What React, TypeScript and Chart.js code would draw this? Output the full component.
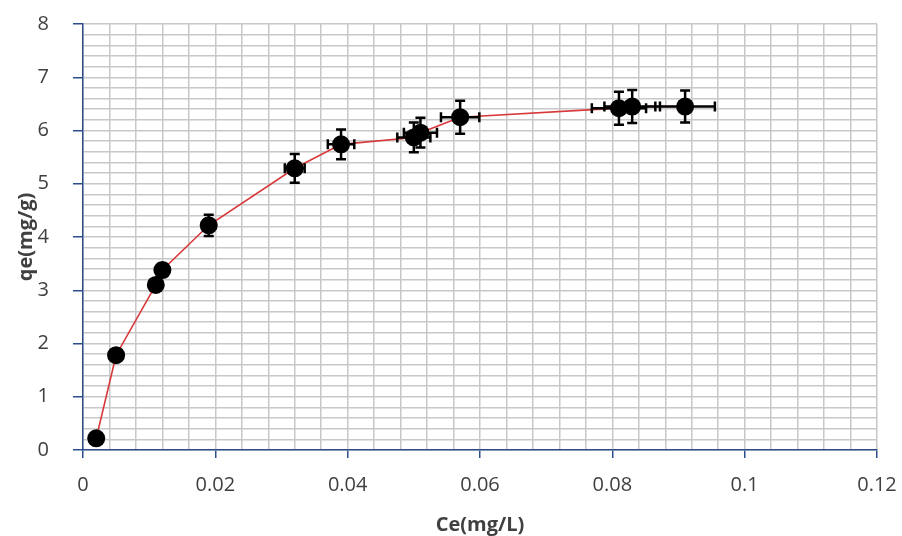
import React, { useEffect, useRef } from "react";
import { Chart, registerables } from "chart.js";

Chart.register(...registerables);

// Equilibrium concentration (mg/L) and adsorbed amount (mg/g)
const ce = [0.002, 0.005, 0.011, 0.012, 0.019, 0.032, 0.039, 0.05, 0.051, 0.057, 0.081, 0.083, 0.091];
const qe = [0.22, 1.78, 3.1, 3.38, 4.22, 5.29, 5.74, 5.87, 5.96, 6.25, 6.42, 6.45, 6.45];
// Error bar half-widths
const ceErr = [0, 0, 0, 0, 0, 0.0015, 0.002, 0.0025, 0.0025, 0.0029, 0.0041, 0.0042, 0.0045];
const qeErr = [0, 0, 0, 0.12, 0.2, 0.27, 0.28, 0.28, 0.28, 0.31, 0.31, 0.31, 0.3];

// Axis ranges, minor grid spacing and labelled tick spacing
const xMin = 0, xMax = 0.12, xMinor = 0.004, xMajor = 0.02;
const yMin = 0, yMax = 8, yMinor = 0.2, yMajor = 1;

const AXIS_BLUE = "#2c4d8a";
const GRID = "#c8c8c8";
const TEXT = "#404040";
const FONT = "'Open Sans', 'Liberation Sans', sans-serif";

const isMajor = (v: number, step: number) => Math.abs(v / step - Math.round(v / step)) < 1e-6;

const gridValues = (min: number, max: number, step: number) => {
  const out: number[] = [];
  const n = Math.round((max - min) / step);
  for (let i = 0; i <= n; i++) out.push(+(min + i * step).toFixed(6));
  return out;
};

const clearPadding = (s: any) => {
  s.paddingTop = 0;
  s.paddingBottom = 0;
  s.paddingLeft = 0;
  s.paddingRight = 0;
};

const errorBars = {
  id: "errorBars",
  afterDatasetsDraw(chart: any) {
    const { ctx, scales } = chart;
    const xs = scales.x, ys = scales.y;
    const cap = 5;
    ctx.save();
    ctx.strokeStyle = "#000";
    ctx.lineWidth = 2.5;
    ctx.beginPath();
    ce.forEach((c, i) => {
      const px = xs.getPixelForValue(c);
      const py = ys.getPixelForValue(qe[i]);
      if (qeErr[i] > 0) {
        const t = ys.getPixelForValue(qe[i] + qeErr[i]);
        const b = ys.getPixelForValue(qe[i] - qeErr[i]);
        ctx.moveTo(px, t); ctx.lineTo(px, b);
        ctx.moveTo(px - cap, t); ctx.lineTo(px + cap, t);
        ctx.moveTo(px - cap, b); ctx.lineTo(px + cap, b);
      }
      if (ceErr[i] > 0) {
        const l = xs.getPixelForValue(c - ceErr[i]);
        const r = xs.getPixelForValue(c + ceErr[i]);
        ctx.moveTo(l, py); ctx.lineTo(r, py);
        ctx.moveTo(l, py - cap); ctx.lineTo(l, py + cap);
        ctx.moveTo(r, py - cap); ctx.lineTo(r, py + cap);
      }
    });
    ctx.stroke();
    ctx.restore();
  },
};

export default function App() {
  const canvasRef = useRef<HTMLCanvasElement>(null);

  useEffect(() => {
    if (!canvasRef.current) return;
    const chart = new Chart(canvasRef.current, {
      type: "scatter",
      data: {
        datasets: [
          {
            data: ce.map((c, i) => ({ x: c, y: qe[i] })),
            showLine: true,
            borderColor: "#d8383a",
            borderWidth: 1.6,
            pointRadius: 9,
            pointHoverRadius: 9,
            pointBackgroundColor: "#000",
            pointBorderWidth: 0,
          },
        ],
      },
      options: {
        animation: false,
        responsive: true,
        maintainAspectRatio: false,
        layout: { padding: { left: 0, top: 24, right: 25, bottom: 0 } },
        plugins: { legend: { display: false }, tooltip: { enabled: false } },
        scales: {
          x: {
            type: "linear",
            min: xMin,
            max: xMax,
            afterBuildTicks: (s: any) => {
              s.ticks = gridValues(xMin, xMax, xMinor).map((v) => ({ value: v }));
            },
            afterFit: (s: any) => {
              s.height = 86;
              clearPadding(s);
            },
            grid: {
              color: GRID,
              lineWidth: 1.5,
              tickLength: 8,
              tickWidth: 1.5,
              tickColor: (c: any) => (isMajor(c.tick.value, xMajor) ? AXIS_BLUE : "rgba(0,0,0,0)"),
            },
            border: { color: AXIS_BLUE, width: 1.5 },
            ticks: {
              autoSkip: false,
              maxRotation: 0,
              padding: 15,
              color: TEXT,
              font: { family: FONT, size: 20 },
              callback: (v: any) => (isMajor(+v, xMajor) ? String(parseFloat((+v).toFixed(2))) : ""),
            },
            title: {
              display: true,
              text: "Ce(mg/L)",
              color: TEXT,
              font: { family: FONT, size: 20, weight: "bold" },
              padding: { top: 0, bottom: -1 },
            },
          },
          y: {
            type: "linear",
            min: yMin,
            max: yMax,
            afterBuildTicks: (s: any) => {
              s.ticks = gridValues(yMin, yMax, yMinor).map((v) => ({ value: v }));
            },
            afterFit: (s: any) => {
              s.width = 83;
              clearPadding(s);
            },
            grid: {
              color: GRID,
              lineWidth: 1.5,
              tickLength: 10,
              tickWidth: 1.5,
              tickColor: (c: any) => (isMajor(c.tick.value, yMajor) ? AXIS_BLUE : "rgba(0,0,0,0)"),
            },
            border: { color: AXIS_BLUE, width: 1.5 },
            ticks: {
              autoSkip: false,
              padding: 24,
              color: TEXT,
              font: { family: FONT, size: 20 },
              callback: (v: any) => (isMajor(+v, yMajor) ? String(Math.round(+v)) : ""),
            },
            title: {
              display: true,
              text: "qe(mg/g)",
              color: TEXT,
              font: { family: FONT, size: 20, weight: "bold" },
              padding: { top: 14, bottom: 0 },
            },
          },
        },
      },
      plugins: [errorBars],
    });
    return () => chart.destroy();
  }, []);

  return (
    <div style={{ position: "absolute", left: 0, top: 0, width: 902, height: 536, background: "#fff" }}>
      <canvas ref={canvasRef} />
    </div>
  );
}
